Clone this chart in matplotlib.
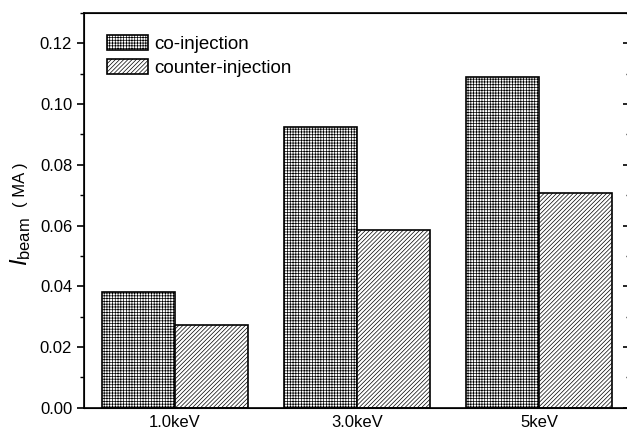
import numpy as np
import matplotlib
matplotlib.use('Agg')
import matplotlib.pyplot as plt
from matplotlib.ticker import MultipleLocator, FormatStrFormatter

plt.rcParams['font.family'] = 'Liberation Sans'
plt.rcParams['mathtext.fontset'] = 'custom'
plt.rcParams['mathtext.rm'] = 'Liberation Sans'
plt.rcParams['mathtext.it'] = 'Liberation Sans:italic'
plt.rcParams['hatch.linewidth'] = 0.5

energies = ['1.0keV', '3.0keV', '5keV']
co_injection = [0.0382, 0.0924, 0.1089]
counter_injection = [0.0273, 0.0586, 0.0707]

fig = plt.figure(figsize=(6.27, 4.32), dpi=100)
# right spine sits just past the figure edge
ax = fig.add_axes([0.134, 0.056, 0.871, 0.914])

x = np.arange(len(energies))
w = 0.4
ax.bar(x - w, co_injection, w, align='edge', color='white', edgecolor='black',
       linewidth=1.2, hatch='++++++', label='co-injection')
ax.bar(x, counter_injection, w, align='edge', color='white', edgecolor='black',
       linewidth=1.2, hatch='////////', label='counter-injection')

ax.set_xlim(-0.5, 2.5)
ax.set_ylim(0, 0.13)
ax.set_xticks(x)
ax.set_xticklabels(energies, fontsize=12)
ax.tick_params(axis='x', length=0, pad=5)

ax.yaxis.set_major_locator(MultipleLocator(0.02))
ax.yaxis.set_minor_locator(MultipleLocator(0.01))
ax.yaxis.set_major_formatter(FormatStrFormatter('%.2f'))
ax.tick_params(axis='y', which='major', direction='out', length=5, width=1.2,
               labelsize=12)
ax.tick_params(axis='y', which='minor', direction='out', length=3, width=1)
for sp in ax.spines.values():
    sp.set_linewidth(1.2)

# inward ticks on the right side
ax2 = ax.twinx()
ax2.set_ylim(ax.get_ylim())
ax2.yaxis.set_major_locator(MultipleLocator(0.02))
ax2.yaxis.set_minor_locator(MultipleLocator(0.01))
ax2.tick_params(axis='y', which='major', direction='in', length=5, width=1.2,
                labelright=False)
ax2.tick_params(axis='y', which='minor', direction='in', length=3, width=1)

# y-axis title: italic I with subscript, then the unit
fig.text(21 / 627, 1 - 242 / 432, r'$I_{\rm beam}$', rotation=90, fontsize=17,
         ha='center', va='center')
fig.text(20 / 627, 1 - 185 / 432, '( MA )', rotation=90, fontsize=12,
         ha='center', va='center')

ax.legend(loc='upper left', bbox_to_anchor=(0.042, 0.944), frameon=False,
          fontsize=13.5, handlelength=2.2, handleheight=0.85, handletextpad=0.3,
          labelspacing=0.3, borderaxespad=0, borderpad=0)

plt.savefig('out.png', dpi=100)
